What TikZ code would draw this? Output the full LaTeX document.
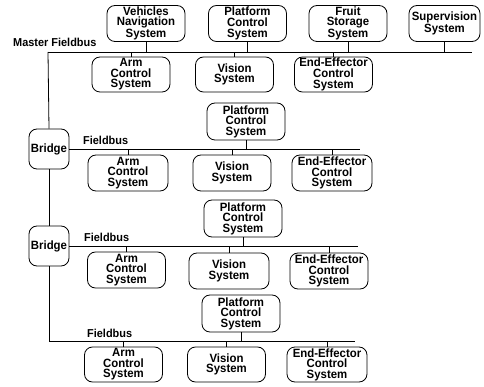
\documentclass[tikz,border=0pt]{standalone}
\usepackage{fontspec}
\newfontfamily\diagfont[FakeStretch=0.95]{Liberation Sans}
\usepackage{tikz}

\begin{document}
\begin{tikzpicture}
  [
  x=1pt,y=-1pt,
  sysbox/.style={rectangle,rounded corners=8pt,draw,line width=0.8pt,align=center,
    inner sep=0pt,minimum width=78pt,minimum height=36pt,
    font=\diagfont\bfseries\fontsize{12}{10.6}\selectfont},
  bridgebox/.style={sysbox,minimum width=40pt,minimum height=40pt},
  buslabel/.style={anchor=base west,inner sep=0pt,
    font=\diagfont\bfseries\fontsize{11.5}{12}\selectfont},
  bus/.style={line width=0.8pt}
  ]
  \useasboundingbox (0,0) rectangle (484,387);

  % master fieldbus
  \node (vns)  [sysbox] at (146,23.5) {Vehicles\\Navigation\\System};
  \node (pcs0) [sysbox] at (247.5,23.5) {Platform\\Control\\System};
  \node (fss)  [sysbox] at (348,23.5) {Fruit\\Storage\\System};
  \node (sup)  [sysbox] at (444.5,23.5) [minimum width=71pt] {Supervision\\System};
  \node (acs0) [sysbox] at (131,74.5) [minimum height=35pt] {Arm\\Control\\System};
  \node (vis0) [sysbox] at (234.5,74.5) [minimum height=35pt] {Vision\\System};
  \node (ees0) [sysbox] at (333.5,74.5) [minimum height=35pt] {End-Effector\\Control\\System};
  \node (lblm) [buslabel] at (13,47) {Master Fieldbus};
  \coordinate (mbeg) at (48,52);
  \coordinate (mend) at (472,52);

  % first fieldbus
  \node (brg1) [bridgebox] at (49,149) {Bridge};
  \node (pcs1) [sysbox] at (246,121.5) [minimum height=37pt] {Platform\\Control\\System};
  \node (acs1) [sysbox] at (128,173) [minimum width=80pt] {Arm\\Control\\System};
  \node (vis1) [sysbox] at (232,173) {Vision\\System};
  \node (ees1) [sysbox] at (332,173) [minimum width=80pt] {End-Effector\\Control\\System};
  \node (lbl1) [buslabel] at (83,145) {Fieldbus};
  \coordinate (end1) at (360,149);

  % second fieldbus
  \node (brg2) [bridgebox] at (49,246) {Bridge};
  \node (pcs2) [sysbox] at (243,218.5) [minimum height=37pt] {Platform\\Control\\System};
  \node (acs2) [sysbox] at (126.5,270) {Arm\\Control\\System};
  \node (vis2) [sysbox] at (229,271) [minimum width=80pt] {Vision\\System};
  \node (ees2) [sysbox] at (329,271) {End-Effector\\Control\\System};
  \node (lbl2) [buslabel] at (84,241.5) {Fieldbus};
  \coordinate (end2) at (358,246);

  % third fieldbus
  \node (pcs3) [sysbox] at (241,313.5) [minimum height=37pt] {Platform\\Control\\System};
  \node (acs3) [sysbox] at (123.5,364.5) [minimum height=35pt] {Arm\\Control\\System};
  \node (vis3) [sysbox] at (226.5,364.5) [minimum height=35pt] {Vision\\System};
  \node (ees3) [sysbox] at (327,364.5) [minimum width=80pt,minimum height=35pt] {End-Effector\\Control\\System};
  \node (lbl3) [buslabel] at (87,337) {Fieldbus};
  \coordinate (end3) at (355,341);

  \draw [bus] (mbeg) -- (mend);
  \draw [bus] (mbeg) -- (brg1.north);
  \draw [bus] (brg1.south) -- (brg2.north);
  \draw [bus] (brg2.south) |- (end3);
  \draw [bus] (brg1.east) -- (end1);
  \draw [bus] (brg2.east) -- (end2);

  \draw [bus] (vns.south)  -- (vns.south |- mend);
  \draw [bus] (pcs0.south) -- (pcs0.south |- mend);
  \draw [bus] (fss.south)  -- (fss.south |- mend);
  \draw [bus] (sup.south)  -- (sup.south |- mend);
  \draw [bus] (acs0.north) -- (acs0.north |- mend);
  \draw [bus] (vis0.north) -- (vis0.north |- mend);
  \draw [bus] (ees0.north) -- (ees0.north |- mend);

  \draw [bus] (pcs1.south) -- (pcs1.south |- end1);
  \draw [bus] (acs1.north) -- (acs1.north |- end1);
  \draw [bus] (vis1.north) -- (vis1.north |- end1);
  \draw [bus] (ees1.north) -- (ees1.north |- end1);

  \draw [bus] (pcs2.south) -- (pcs2.south |- end2);
  \draw [bus] (acs2.north) -- (acs2.north |- end2);
  \draw [bus] (vis2.north) -- (vis2.north |- end2);
  \draw [bus] (ees2.north) -- (ees2.north |- end2);

  \draw [bus] (pcs3.south) -- (pcs3.south |- end3);
  \draw [bus] (acs3.north) -- (acs3.north |- end3);
  \draw [bus] (vis3.north) -- (vis3.north |- end3);
  \draw [bus] (ees3.north) -- (ees3.north |- end3);
\end{tikzpicture}
\end{document}
